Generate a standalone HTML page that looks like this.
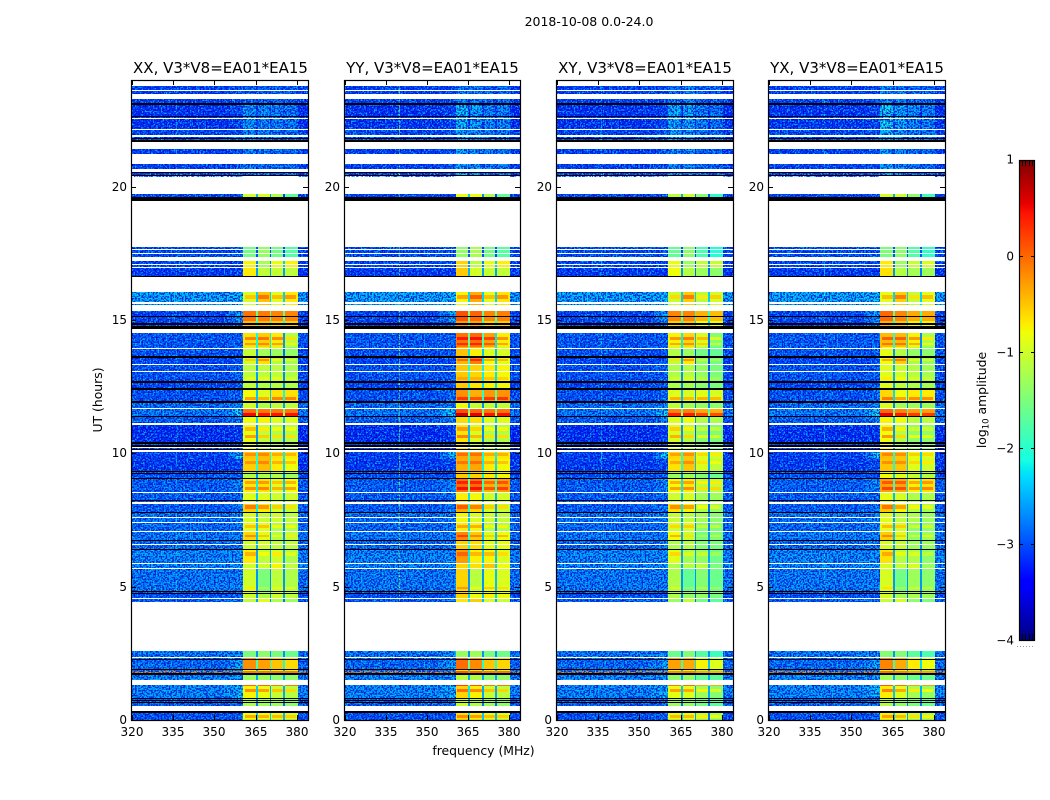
<!DOCTYPE html>
<html lang="en">
<head>
<meta charset="utf-8">
<title>2018-10-08 0.0-24.0</title>
<style>
html,body{margin:0;padding:0;background:#fff;}
svg{display:block;}
text{font-family:"DejaVu Sans","Liberation Sans",sans-serif;fill:#000;}
.tick-label{font-size:12px;}
.panel-title{font-size:15px;text-anchor:middle;}
.axis-label{font-size:12.4px;}
</style>
</head>
<body>
<svg id="chart" xmlns="http://www.w3.org/2000/svg" width="1050" height="800" viewBox="0 0 1050 800">
<defs>
<filter id="lightNoise" x="0" y="0" width="100%" height="100%" color-interpolation-filters="sRGB">
<feTurbulence type="fractalNoise" baseFrequency="0.62" numOctaves="1" seed="4"/>
<feColorMatrix type="matrix" values="0 0 0 0 0  0 0 0 0 0.78  0 0 0 0 1  7 0 0 0 -3.2"/>
</filter>
<filter id="darkNoise" x="0" y="0" width="100%" height="100%" color-interpolation-filters="sRGB">
<feTurbulence type="fractalNoise" baseFrequency="0.62" numOctaves="1" seed="11"/>
<feColorMatrix type="matrix" values="0 0 0 0 0  0 0 0 0 0  0 0 0 0 0.8  7 0 0 0 -3.1"/>
</filter>
<linearGradient id="jetGradient" x1="0" y1="1" x2="0" y2="0"></linearGradient>
</defs>
<text x="589" y="26" font-size="12.5" text-anchor="middle">2018-10-08 0.0-24.0</text>
<text class="panel-title" x="220.5" y="73">XX, V3*V8=EA01*EA15</text>
<text class="panel-title" x="432.5" y="73">YY, V3*V8=EA01*EA15</text>
<text class="panel-title" x="645" y="73">XY, V3*V8=EA01*EA15</text>
<text class="panel-title" x="857" y="73">YX, V3*V8=EA01*EA15</text>
<text class="axis-label" transform="translate(102,400) rotate(-90)" text-anchor="middle">UT (hours)</text>
<text class="axis-label" x="483.5" y="755" text-anchor="middle">frequency (MHz)</text>
<text class="axis-label" transform="translate(986,400) rotate(-90)" text-anchor="middle">log<tspan font-size="8.5" dy="2.5">10</tspan><tspan dy="-2.5"> amplitude</tspan></text>
</svg>
<script>
// Time extent and tick labels
const timeDomain = [0, 24];
const freqDomain = [320, 384];
const xTickValues = [320, 335, 350, 365, 380];
const yTickValues = [0, 5, 10, 15, 20];
const colorDomain = [-4, 1];
const colorTickValues = [1, 0, -1, -2, -3, -4];
const colorMinorTicks = [0.2, 0.4, 0.6, 0.8];

// Panel names
const panelNames = ['xx', 'yy', 'xy', 'yx'];

// Frequency band boundaries (MHz): edge shoulder, four spectral windows
const edgeStartFreq = 355;
const edgeMidFreq = 358;
const bandEdges = [360.6, 365.5, 370.4, 375.3, 380.2];

// Log10 amplitude per time band: [tTop, tBottom, low, edge, w1, w2, w3, w4]
const timeBands = [
  [23.78,23.12,-3.05,-3.0,-2.85,-2.8,-2.85,-2.85],
  [23.12,22.2,-3.15,-3.0,-2.45,-2.55,-2.6,-2.65],
  [22.2,21.4,-3.0,-2.9,-2.6,-2.7,-2.7,-2.75],
  [21.4,20.4,-3.05,-2.9,-2.65,-2.7,-2.75,-2.75],
  [19.73,19.62,-3.0,-3.0,-1.0,-0.95,-1.2,-1.7],
  [19.62,19.48,-3.0,-3.0,-0.8,-0.8,-1.0,-1.3],
  [17.75,17.37,-2.95,-2.9,-1.55,-1.35,-1.55,-1.75],
  [17.21,16.95,-3.0,-3.0,-0.75,-1.25,-0.85,-0.75],
  [16.95,16.65,-3.1,-3.1,-0.7,-1.1,-1.05,-1.1],
  [16.05,15.33,-2.3,-2.2,-0.95,-0.5,-0.9,-0.7],
  [15.33,14.95,-3.0,-2.3,-0.05,-0.1,-0.15,-0.15],
  [14.95,14.66,-3.0,-2.6,-0.45,-0.45,-0.55,-0.55],
  [14.52,13.94,-2.85,-2.8,-0.65,-0.55,-0.7,-1.15],
  [13.9,13.64,-2.9,-2.85,-1.05,-1.25,-1.3,-1.35],
  [13.58,13.35,-3.0,-2.9,-1.0,-0.65,-1.2,-1.3],
  [13.31,12.7,-2.9,-2.8,-1.1,-1.1,-1.1,-1.2],
  [12.65,12.38,-3.0,-2.9,-1.1,-1.2,-1.15,-1.2],
  [12.38,11.96,-2.9,-2.7,-0.8,-0.9,-0.65,-0.65],
  [11.9,11.7,-2.7,-2.5,-1.0,-1.2,-1.1,-1.1],
  [11.66,11.52,-2.6,-2.1,-0.05,-0.1,-0.1,-0.1],
  [11.52,11.4,-2.6,-1.9,0.5,0.45,0.45,0.45],
  [11.36,11.15,-2.8,-2.5,-0.8,-0.75,-0.9,-0.9],
  [11.07,10.41,-3.2,-3.1,-0.85,-1.1,-1.2,-1.2],
  [10.36,10.04,-3.0,-2.9,-0.8,-1.1,-1.1,-1.2],
  [10.04,9.8,-3.05,-2.15,-0.5,-0.45,-0.65,-0.7],
  [9.8,9.34,-3.1,-3.0,-0.55,-0.45,-0.7,-0.8],
  [9.34,9.05,-2.9,-2.85,-1.2,-1.2,-1.2,-1.3],
  [9.05,8.55,-2.8,-2.5,-0.7,-0.65,-0.9,-0.8],
  [8.51,8.11,-2.8,-2.7,-0.9,-0.9,-1.0,-1.0],
  [8.11,7.76,-2.8,-2.6,-0.55,-0.7,-1.0,-1.1],
  [7.76,7.41,-2.65,-2.55,-0.95,-1.05,-1.0,-1.1],
  [7.38,7.05,-2.7,-2.6,-0.9,-0.9,-1.2,-1.2],
  [7.05,6.71,-2.6,-2.55,-0.6,-0.9,-1.2,-1.1],
  [6.71,6.38,-2.7,-2.6,-1.0,-1.0,-1.1,-1.1],
  [6.38,5.84,-2.5,-2.45,-0.7,-1.1,-1.0,-1.2],
  [5.84,5.66,-2.5,-2.45,-1.0,-1.0,-0.75,-1.1],
  [5.66,4.79,-2.6,-2.55,-1.0,-1.5,-1.1,-1.2],
  [4.79,4.54,-2.9,-2.8,-1.0,-1.2,-1.0,-1.1],
  [4.54,4.44,-2.8,-2.7,-1.1,-0.9,-1.2,-1.3],
  [2.59,2.33,-2.6,-2.5,-1.5,-1.4,-1.5,-1.6],
  [2.33,1.91,-2.7,-2.3,-0.2,-0.3,-0.5,-0.6],
  [1.91,1.82,-2.6,-2.5,-0.9,-1.0,-1.0,-1.1],
  [1.82,1.76,-0.1,-0.1,-0.1,-0.1,-0.1,-0.1],
  [1.7,1.5,-2.5,-2.4,-1.3,-1.3,-1.4,-1.4],
  [1.31,1.27,-2.5,-2.4,0,0,-0.1,-0.1],
  [1.27,0.78,-2.5,-2.2,-0.75,-0.85,-1.05,-1.15],
  [0.78,0.51,-2.8,-2.7,-1.2,-1.3,-1.3,-1.4],
  [0.27,0,-2.9,-2.8,-0.8,-0.85,-0.9,-1.0]
];

// Short horizontal stripes in the windows: [tTop, tBottom, amplitude change]
const windowStripes = [
  [15.95,15.8,0.45],[14.36,14.25,0.5],[14.15,14.05,0.4],[14.0,13.95,-0.35],
  [13.55,13.45,0.45],[12.85,12.75,0.2],[12.12,12.0,0.5],[11.0,10.85,0.4],
  [10.7,10.58,0.55],[10.02,9.9,0.3],[9.72,9.6,0.3],[8.95,8.85,0.4],
  [8.75,8.62,0.5],[8.05,7.9,0.45],[7.3,7.2,0.4],[6.95,6.85,0.4],
  [6.3,6.15,0.3],[5.0,4.9,0.3],[1.15,1.05,0.55],[0.18,0.08,0.45]
];

// Panel-wide amplitude offsets
const panelLowOffset = [-0.05, -0.05, -0.05, -0.03];
const panelWindowOffset = [
  [0, 0, 0, 0],
  [0.18, 0.12, 0, 0.02],
  [-0.1, -0.05, -0.25, -0.3],
  [0.05, -0.05, -0.2, -0.2]
];
// Extra window gain in time ranges: [tTop, tBottom, xx, yy, xy, yx]
const timeGain = [
  [14.52,11.9,0,0.4,0,0.15],
  [9.34,8.51,0,0.5,0,0.35],
  [7.05,4.44,0,0.25,-0.1,0],
  [21.4,20.4,0,0.1,0.2,0.2],
  [23.78,21.4,0,0.05,0.25,0.25]
];

// Interference columns: [panel index, MHz, log amplitude]
const rfiColumns = [[0,336,-2.6],[1,340,-1.5],[2,336,-2.3],[3,340,-2.4]];

// Flagged (white) time ranges in hours
const whiteRanges = [
  [24,23.78],[23.63,23.59],[23.48,23.29],[22.59,22.53],[22.18,22.16],[21.94,21.86],
  [21.69,21.41],[21.23,20.85],[20.66,20.56],[20.37,19.73],[19.48,17.75],[17.67,17.63],
  [17.52,17.49],[17.37,17.21],[17.11,17.09],[17.0,16.97],[16.6,16.05],[15.68,15.6],
  [15.57,15.33],[14.65,14.52],[13.94,13.9],[13.35,13.31],[13.09,13.05],[11.7,11.66],
  [11.15,11.07],[10.23,10.19],[10.13,10.04],[8.55,8.51],[8.16,8.11],[7.62,7.58],
  [7.41,7.38],[7.09,7.05],[6.6,6.56],[5.88,5.84],[5.7,5.66],[4.58,4.54],
  [4.44,2.59],[2.36,2.33],[1.5,1.31],[0.51,0.33]
];

// Zero-amplitude (black) time ranges in hours
const blackRanges = [
  [23.12,23.08],[22.65,22.61],[21.84,21.81],[21.75,21.69],[20.55,20.51],[20.44,20.4],
  [19.62,19.59],[19.58,19.54],[19.52,19.48],[16.65,16.61],[15.15,15.1],[14.88,14.81],
  [14.79,14.75],[14.73,14.66],[13.64,13.58],[12.7,12.65],[12.44,12.38],[11.96,11.9],
  [11.4,11.36],[10.41,10.36],[10.3,10.25],[10.16,10.14],[9.34,9.29],[9.25,9.21],
  [9.09,9.05],[8.24,8.21],[7.8,7.76],[6.75,6.71],[6.4,6.38],[4.83,4.79],[4.76,4.74],
  [2.3,2.26],[1.91,1.88],[1.76,1.7],[0.81,0.78],[0.74,0.7],[0.68,0.64],[0.33,0.27]
];

const SVGNS = 'http://www.w3.org/2000/svg';
const chart = document.getElementById('chart');
const plotBox = [
  {left:131, right:308},
  {left:344, right:520},
  {left:556, right:733},
  {left:768, right:945}
];
const plotTop = 80, plotBottom = 720;
const cbar = {left:1019, right:1035, top:160, bottom:640};

function xScale(box, f) {
  return box.left + 0.5 + (f - freqDomain[0]) / (freqDomain[1] - freqDomain[0]) * (box.right - box.left - 0.5);
}
function yScale(t) {
  return plotBottom - (t - timeDomain[0]) / (timeDomain[1] - timeDomain[0]) * (plotBottom - plotTop);
}
function cbarY(v) {
  return cbar.bottom - (v - colorDomain[0]) / (colorDomain[1] - colorDomain[0]) * (cbar.bottom - cbar.top);
}
function interp(stops, x) {
  for (let i = 1; i < stops.length; i++) {
    if (x <= stops[i][0]) {
      const a = stops[i - 1], b = stops[i];
      return a[1] + (b[1] - a[1]) * (x - a[0]) / (b[0] - a[0]);
    }
  }
  return stops[stops.length - 1][1];
}
const jetR = [[0,0],[0.35,0],[0.66,1],[0.89,1],[1,0.5]];
const jetG = [[0,0],[0.125,0],[0.375,1],[0.64,1],[0.91,0],[1,0]];
const jetB = [[0,0.5],[0.11,1],[0.34,1],[0.65,0],[1,0]];
function jet(v) {
  const x = Math.max(0, Math.min(1, (v - colorDomain[0]) / (colorDomain[1] - colorDomain[0])));
  const c = [jetR, jetG, jetB].map(s => Math.round(255 * interp(s, x)));
  return 'rgb(' + c.join(',') + ')';
}
function svgEl(tag, attrs, parent) {
  const el = document.createElementNS(SVGNS, tag);
  for (const k in attrs) el.setAttribute(k, attrs[k]);
  parent.appendChild(el);
  return el;
}
function gainAt(p, tTop, tBottom) {
  const mid = (tTop + tBottom) / 2;
  let g = 0;
  timeGain.forEach(r => { if (mid <= r[0] && mid >= r[1]) g += r[2 + p]; });
  return g;
}
function drawBar(g, box, f0, f1, tTop, tBottom, level, name) {
  const x0 = Math.round(xScale(box, f0)), x1 = Math.round(xScale(box, f1));
  const y0 = Math.round(yScale(tTop)), y1 = Math.round(yScale(tBottom));
  const el = svgEl('rect', {x:x0, y:y0, width:Math.max(1, x1 - x0), height:Math.max(1, y1 - y0), fill:jet(level)}, g);
  
  
  return el;
}

panelNames.forEach((name, p) => {
  const box = plotBox[p];
  const g = svgEl('g', {'shape-rendering':'crispEdges'}, chart);
  
  

  timeBands.forEach(row => {
    const tTop = row[0], tBottom = row[1];
    const low = row[2] + panelLowOffset[p];
    const edge = row[3] + panelLowOffset[p];
    const gain = gainAt(p, tTop, tBottom);
    drawBar(g, box, freqDomain[0], edgeStartFreq, tTop, tBottom, low, 'band-low-' + name);
    drawBar(g, box, edgeStartFreq, edgeMidFreq, tTop, tBottom, (low + edge) / 2, 'band-shoulder-' + name);
    drawBar(g, box, edgeMidFreq, bandEdges[0], tTop, tBottom, edge, 'band-edge-' + name);
    for (let w = 0; w < 4; w++) {
      const level = row[4 + w] + panelWindowOffset[p][w] + gain;
      drawBar(g, box, bandEdges[w], bandEdges[w + 1], tTop, tBottom, level, 'window-' + (w + 1) + '-' + name);
    }
    drawBar(g, box, bandEdges[4], freqDomain[1], tTop, tBottom, low - 0.05, 'band-high-' + name);
  });

  windowStripes.forEach(s => {
    const mid = (s[0] + s[1]) / 2;
    const row = timeBands.find(r => mid <= r[0] && mid >= r[1]);
    if (!row) return;
    const gain = gainAt(p, row[0], row[1]);
    for (let w = 0; w < 4; w++) {
      const level = row[4 + w] + panelWindowOffset[p][w] + gain + s[2];
      drawBar(g, box, bandEdges[w] + 0.4, bandEdges[w + 1] - 0.4, s[0], s[1], level, 'window-stripe-' + name);
    }
  });

  timeBands.forEach(row => {
    const low = row[2] + panelLowOffset[p];
    const gain = gainAt(p, row[0], row[1]);
    for (let w = 1; w < 4; w++) {
      const notch = Math.max(low, Math.min(row[3 + w], row[4 + w]) + panelWindowOffset[p][w] + gain - 1.5);
      drawBar(g, box, bandEdges[w] - 0.34, bandEdges[w] + 0.34, row[0], row[1], notch, 'window-notch-' + name);
    }
  });

  rfiColumns.filter(c => c[0] === p).forEach(c => {
    timeBands.forEach(row => {
      if (row[0] > 4.4) {
        drawBar(g, box, c[1], c[1] + 0.3, row[0], row[1], Math.max(c[2], row[2] + 0.3), 'rfi-column-' + name);
      }
    });
  });

  [[freqDomain[0], bandEdges[0], plotBottom], [bandEdges[4], freqDomain[1], plotBottom], [bandEdges[0], bandEdges[4], yScale(20.4)]].forEach(range => {
    const x0 = Math.round(xScale(box, range[0])), x1 = Math.round(xScale(box, range[1]));
    const light = svgEl('rect', {x:x0, y:plotTop, width:x1 - x0, height:range[2] - plotTop, filter:'url(#lightNoise)', opacity:0.85}, g);
    
    
    const dark = svgEl('rect', {x:x0, y:plotTop, width:x1 - x0, height:range[2] - plotTop, filter:'url(#darkNoise)', opacity:0.8}, g);
    
    
  });

  whiteRanges.forEach(r => {
    const y0 = Math.round(yScale(r[0])), y1 = Math.round(yScale(r[1]));
    const el = svgEl('rect', {x:box.left, y:y0, width:box.right - box.left, height:Math.max(1, y1 - y0), fill:'#fff'}, g);
    
    
  });
  blackRanges.forEach(r => {
    const y0 = Math.round(yScale(r[0])), y1 = Math.round(yScale(r[1]));
    const el = svgEl('rect', {x:box.left, y:y0, width:box.right - box.left, height:Math.max(1, y1 - y0), fill:'#000'}, g);
    
    
  });

  const frame = svgEl('rect', {x:box.left + 0.5, y:plotTop + 0.5, width:box.right - box.left, height:plotBottom - plotTop, fill:'none', stroke:'#000', 'stroke-width':1.2}, chart);
  
  

  xTickValues.forEach(v => {
    const x = Math.round(xScale(box, v)) + 0.5;
    const bottomTick = svgEl('line', {x1:x, x2:x, y1:plotBottom, y2:plotBottom - 5, stroke:'#000'}, chart);
    
    
    const topTick = svgEl('line', {x1:x, x2:x, y1:plotTop, y2:plotTop + 5, stroke:'#000'}, chart);
    
    
    const label = svgEl('text', {x:x - 0.5, y:736, 'text-anchor':'middle', class:'tick-label'}, chart);
    
    
    label.textContent = String(v);
  });

  yTickValues.forEach(v => {
    const y = Math.round(yScale(v)) + 0.5;
    const leftTick = svgEl('line', {x1:box.left, x2:box.left + 5, y1:y, y2:y, stroke:'#000'}, chart);
    
    
    const rightTick = svgEl('line', {x1:box.right, x2:box.right - 5, y1:y, y2:y, stroke:'#000'}, chart);
    
    
    const label = svgEl('text', {x:box.left - 4, y:y + 3.5, 'text-anchor':'end', class:'tick-label'}, chart);
    
    
    label.textContent = String(v);
  });
});

// Colorbar
const gradient = document.getElementById('jetGradient');
for (let i = 0; i <= 20; i++) {
  const v = colorDomain[0] + (colorDomain[1] - colorDomain[0]) * i / 20;
  svgEl('stop', {offset:(i * 5) + '%', 'stop-color':jet(v)}, gradient);
}
const jetStopValues = [0.11, 0.125, 0.34, 0.35, 0.375, 0.64, 0.65, 0.66, 0.89, 0.91];
const stopList = Array.from(gradient.children);
jetStopValues.forEach(x => {
  const v = colorDomain[0] + (colorDomain[1] - colorDomain[0]) * x;
  const stop = document.createElementNS(SVGNS, 'stop');
  stop.setAttribute('offset', (x * 100) + '%');
  stop.setAttribute('stop-color', jet(v));
  const next = stopList.find(s => parseFloat(s.getAttribute('offset')) > x * 100);
  gradient.insertBefore(stop, next || null);
});
const cbarRect = svgEl('rect', {x:cbar.left + 0.5, y:cbar.top + 0.5, width:cbar.right - cbar.left - 1, height:cbar.bottom - cbar.top, fill:'url(#jetGradient)', stroke:'#000', 'stroke-width':1.2}, chart);



colorTickValues.forEach(v => {
  const y = Math.round(cbarY(v)) + 0.5;
  const left = svgEl('line', {x1:cbar.left, x2:cbar.left + 4, y1:y, y2:y, stroke:'#000'}, chart);
  
  
  const right = svgEl('line', {x1:cbar.right, x2:cbar.right - 4, y1:y, y2:y, stroke:'#000'}, chart);
  
  
  const label = svgEl('text', {x:cbar.left - 5, y:y + (v === 1 ? 3 : 4), 'text-anchor':'end', class:'tick-label', 'font-size':'12'}, chart);
  
  
  label.textContent = v < 0 ? '\u2212' + Math.abs(v) : String(v);
});
colorMinorTicks.forEach(frac => {
  const x = Math.round(cbar.left + frac * (cbar.right - cbar.left)) + 0.5;
  const top = svgEl('line', {x1:x, x2:x, y1:cbar.top, y2:cbar.top + 6, stroke:'#000'}, chart);
  
  
  const bottom = svgEl('line', {x1:x, x2:x, y1:cbar.bottom, y2:cbar.bottom - 6, stroke:'#000'}, chart);
  
  
});
const dots = svgEl('line', {x1:1017, x2:1035, y1:646.5, y2:646.5, stroke:'#999', 'stroke-dasharray':'1 2'}, chart);


</script>
</body>
</html>
